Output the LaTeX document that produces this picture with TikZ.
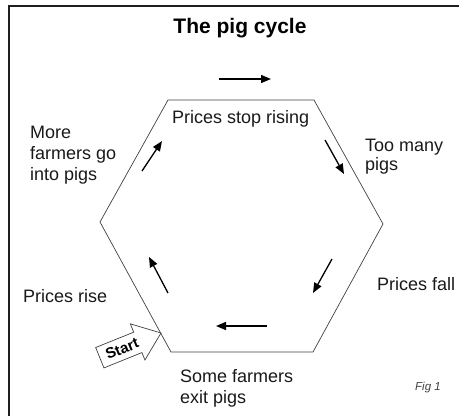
\documentclass[tikz,border=0pt]{standalone}
\usepackage{fontspec}
\setmainfont{Liberation Sans}
\usetikzlibrary{arrows.meta}
\begin{document}
\begin{tikzpicture}[x=1pt,y=-1pt,
  label/.style={font=\fontsize{18}{21}\selectfont, inner sep=0pt, align=left, text=black!90},
  flow/.style={line width=1.3pt, -{Triangle[length=10pt,width=8pt]}},
  hexline/.style={line width=0.7pt, draw=black!75},
  frame/.style={line width=2.6pt, draw=black!88}]
\useasboundingbox (0,0) rectangle (459,416);

% frame
\draw[frame] (9,416) -- (9,6) -- (462,6);

% title
\node[font=\fontsize{21}{24}\selectfont\bfseries, inner sep=0pt, anchor=base] (title) at (240,33) {The pig cycle};

% hexagon
\coordinate (tl) at (168,100);
\coordinate (tr) at (314,100);
\coordinate (r) at (383,224);
\coordinate (br) at (313,352);
\coordinate (bl) at (171,352);
\coordinate (l) at (100,222);
\draw[hexline] (tl) -- (tr) -- (r) -- (br) -- (bl) -- (l) -- cycle;

% direction arrows
\coordinate (a1s) at (219,79); \coordinate (a1e) at (271,79);
\coordinate (a2s) at (325,140); \coordinate (a2e) at (344,174);
\coordinate (a3s) at (332,259); \coordinate (a3e) at (313,293);
\coordinate (a4s) at (267,326); \coordinate (a4e) at (216,326);
\coordinate (a5s) at (168,293); \coordinate (a5e) at (149,257);
\coordinate (a6s) at (142,171); \coordinate (a6e) at (162,141);
\draw[flow] (a1s) -- (a1e);
\draw[flow] (a2s) -- (a2e);
\draw[flow] (a3s) -- (a3e);
\draw[flow] (a4s) -- (a4e);
\draw[flow] (a5s) -- (a5e);
\draw[flow] (a6s) -- (a6e);

% stage labels (base anchor = baseline of the last line)
\node[label, anchor=base west] (stop) at (172,123) {Prices stop rising};
\node[label, anchor=base west] (many) at (365,170) {Too many\\[-2pt]pigs};
\node[label, anchor=base west] (fall) at (377,290) {Prices fall};
\node[label, anchor=base west] (exit) at (180,403) {Some farmers\\exit pigs};
\node[label, anchor=base west] (rise) at (23,302) {Prices rise};
\node[label, anchor=base west] (more) at (30,180) {More\\farmers go\\into pigs};

% start marker
\coordinate (tip) at (161,333);
\begin{scope}[shift={(tip)}, rotate=22]
  \draw[line width=0.7pt, draw=black!75, fill=white]
    (0,0) -- (-25,-20) -- (-25,-11) -- (-66,-11) -- (-66,11) -- (-25,11) -- (-25,19) -- cycle;
  \node[font=\fontsize{15}{17}\selectfont\bfseries, inner sep=0pt, rotate=22] (start) at (-42,0) {Start};
\end{scope}

% figure number
\node[font=\fontsize{11.5}{13}\selectfont\itshape, text=black!75, inner sep=0pt, anchor=base west] (fig) at (415,390) {Fig 1};
\end{tikzpicture}
\end{document}
